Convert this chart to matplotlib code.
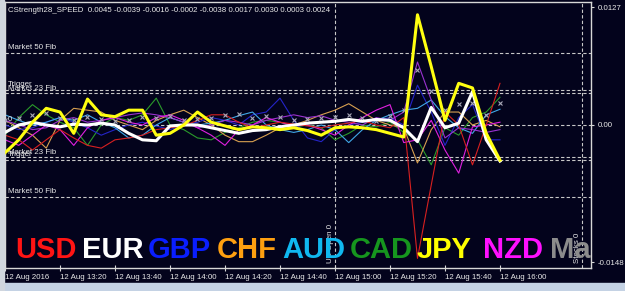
import numpy as np
import matplotlib.pyplot as plt
from matplotlib.patches import Rectangle

# bar times (M5 bars, 13:00 .. 16:00) and tick labels
bars = np.arange(37)
tick_bars = [0, 4, 8, 12, 16, 20, 24, 28, 32, 36]
tick_labels = ['12 Aug 2016', '12 Aug 13:20', '12 Aug 13:40', '12 Aug 14:00', '12 Aug 14:20',
               '12 Aug 14:40', '12 Aug 15:00', '12 Aug 15:20', '12 Aug 15:40', '12 Aug 16:00']

# currency strength speed values
usd = [-0.0011, -0.0016, -0.0027, -0.0016, -0.0005, -0.0014, -0.0022, -0.0025, -0.0016, -0.0014,
       -0.0011, -0.0005, -0.0003, -0.0001, 0.0005, 0.0011, 0.0011, 0.0003, -0.0003, 0.0000,
       0.0003, 0.0001, -0.0001, -0.0003, 0.0000, 0.0002, 0.0005, 0.0000, -0.0003, 0.0008,
       -0.0144, -0.0065, 0.0014, 0.0000, -0.0043, 0.0000, 0.0045]
eur = [-0.0008, 0.0000, 0.0003, 0.0000, -0.0002, 0.0001, 0.0000, 0.0002, 0.0000, -0.0009,
       -0.0016, -0.0017, -0.0001, 0.0000, 0.0000, -0.0003, -0.0006, -0.0009, -0.0006, -0.0005,
       -0.0002, 0.0000, 0.0002, 0.0003, 0.0004, 0.0006, 0.0004, 0.0006, 0.0005, -0.0003,
       -0.0018, 0.0019, -0.0003, 0.0002, 0.0036, -0.0016, -0.0039]
gbp = [0.0000, -0.0005, -0.0003, 0.0003, 0.0008, 0.0003, -0.0003, -0.0011, -0.0005, 0.0000,
       0.0003, -0.0001, -0.0005, 0.0000, 0.0003, 0.0008, 0.0005, 0.0000, 0.0011, 0.0014,
       0.0029, 0.0005, -0.0014, -0.0018, -0.0005, 0.0000, 0.0003, 0.0005, 0.0008, 0.0000,
       0.0043, 0.0014, -0.0022, 0.0008, 0.0022, -0.0016, -0.0016]
chf = [0.0005, -0.0003, -0.0011, -0.0025, 0.0005, 0.0018, 0.0016, 0.0014, 0.0005, 0.0000,
       -0.0005, 0.0005, 0.0011, 0.0016, 0.0008, 0.0000, -0.0011, -0.0018, -0.0018, -0.0011,
       -0.0003, 0.0000, 0.0005, 0.0011, 0.0016, 0.0023, 0.0014, 0.0005, 0.0000, -0.0003,
       -0.0041, -0.0005, 0.0014, 0.0014, 0.0000, 0.0005, -0.0002]
jpy = [-0.0030, -0.0016, 0.0003, 0.0018, 0.0014, -0.0009, 0.0028, 0.0011, 0.0009, 0.0016,
       0.0016, -0.0011, -0.0009, 0.0000, 0.0014, 0.0003, -0.0001, -0.0005, -0.0002, -0.0003,
       -0.0005, -0.0003, -0.0006, -0.0011, -0.0003, -0.0002, -0.0003, -0.0005, -0.0009, -0.0013,
       0.0119, 0.0063, 0.0005, 0.0045, 0.0040, -0.0009, -0.0038]
aud = [0.0011, 0.0005, 0.0000, 0.0003, 0.0008, 0.0005, 0.0011, 0.0003, -0.0003, -0.0014,
       -0.0011, 0.0000, 0.0008, 0.0003, 0.0000, 0.0002, 0.0005, 0.0010, 0.0014, 0.0000,
       -0.0005, -0.0008, -0.0005, 0.0000, -0.0005, -0.0019, -0.0005, 0.0005, 0.0011, 0.0016,
       0.0018, 0.0027, 0.0009, -0.0003, -0.0009, 0.0011, 0.0017]
cad = [-0.0011, 0.0008, 0.0022, 0.0011, 0.0003, -0.0003, -0.0022, 0.0000, 0.0008, 0.0005,
       0.0011, 0.0029, 0.0000, -0.0005, -0.0014, -0.0016, -0.0008, -0.0003, 0.0003, 0.0005,
       0.0003, -0.0002, 0.0000, -0.0003, -0.0016, -0.0009, 0.0000, -0.0002, 0.0003, -0.0008,
       -0.0016, -0.0043, -0.0003, -0.0011, 0.0008, 0.0014, 0.0030]
nzd = [-0.0016, -0.0022, -0.0011, 0.0000, -0.0005, -0.0022, -0.0003, 0.0005, 0.0008, 0.0003,
       0.0000, 0.0008, 0.0011, 0.0005, -0.0003, -0.0011, -0.0022, -0.0005, 0.0000, 0.0008,
       0.0003, -0.0001, 0.0000, -0.0005, -0.0011, 0.0000, 0.0008, 0.0016, 0.0022, -0.0019,
       -0.0016, 0.0005, -0.0027, -0.0052, -0.0002, 0.0000, 0.0003]
violet = [0.0005, 0.0000, -0.0005, -0.0003, 0.0005, 0.0008, 0.0003, 0.0005, 0.0008, 0.0011,
          0.0013, 0.0011, 0.0008, 0.0003, -0.0003, 0.0000, 0.0005, 0.0003, 0.0000, 0.0005,
          0.0008, 0.0011, 0.0008, 0.0010, 0.0005, 0.0003, 0.0000, 0.0008, 0.0005, 0.0014,
          0.0068, 0.0027, -0.0014, -0.0003, -0.0005, -0.0008, -0.0005]
ma = [0.0005, 0.0008, 0.0011, 0.0013, 0.0008, 0.0005, 0.0009, 0.0006, 0.0004, 0.0005,
      0.0009, 0.0008, 0.0010, 0.0005, 0.0006, 0.0008, 0.0011, 0.0012, 0.0008, 0.0010,
      0.0009, 0.0005, 0.0006, 0.0008, 0.0009, 0.0011, 0.0008, 0.0004, 0.0010, 0.0016,
      0.0059, 0.0037, 0.0016, 0.0023, 0.0024, 0.0011, 0.0024]

# levels
fib50 = 0.0078
trigger = 0.0038
fib23 = 0.0035
us_open_bar = 24
stocks_bar = 42

title = 'CStrength28_SPEED  0.0045 -0.0039 -0.0016 -0.0002 -0.0038 0.0017 0.0030 0.0003 0.0024'
currencies = ['USD', 'EUR', 'GBP', 'CHF', 'AUD', 'CAD', 'JPY', 'NZD', 'Ma']
cur_colors = ['#ff1414', '#ffffff', '#0a1eff', '#ffa010', '#10b8f0', '#16961e', '#ffff00', '#ff10ff', '#8c8c8c']
cur_xpos = [0.017, 0.131, 0.244, 0.362, 0.473, 0.589, 0.703, 0.816, 0.930]

bg = '#03031c'
txt = '#e8e8e8'
font = 'Liberation Sans'
fs = 5.7

fig = plt.figure(figsize=(6.25, 2.91), dpi=100, facecolor=bg)
fig.patches.append(Rectangle((0, 0), 1, 8/291, transform=fig.transFigure, color='#c4d2e4', zorder=0))
fig.patches.append(Rectangle((0, 0), 4/625, 1, transform=fig.transFigure, color='#d0d6de', zorder=0))

ax = fig.add_axes([5/625, 23/291, 586/625, 266/291])
ax.set_facecolor(bg)
ax.set_xlim(0, 42.62)
ax.set_ylim(-0.01544, 0.01328)

for s in ax.spines.values():
    s.set_color('#d8d8d8')
    s.set_linewidth(1)

# dashed levels
dash = dict(color='#c8c8c8', lw=0.8, dashes=(3, 2), zorder=1)
for lv in [fib50, trigger, fib23, 0.0, -fib23, -trigger, -fib50]:
    ax.axhline(lv, **dash)
ax.axvline(us_open_bar, **dash)
ax.axvline(stocks_bar, **dash)

lab = dict(color=txt, fontsize=fs, family=font, va='bottom', ha='left')
ax.text(0.2, fib50 + 0.0002, 'Market 50 Fib', **lab)
ax.text(0.2, trigger + 0.0002, 'Trigger', **lab)
ax.text(0.2, fib23 + 0.0001, 'Market 23 Fib', **lab)
ax.text(0.2, 0.0002, '0', **lab)
ax.text(0.2, -fib23 + 0.0002, 'Market 23 Fib', **lab)
ax.text(0.2, -trigger + 0.0002, 'Trigger', **lab)
ax.text(0.2, -fib50 + 0.0002, 'Market 50 Fib', **lab)
ax.text(us_open_bar - 0.1, -0.0149, 'US Open 0', rotation=90, color=txt, fontsize=fs,
        family=font, ha='right', va='bottom')
ax.text(stocks_bar - 0.1, -0.0149, 'Stocks 0', rotation=90, color=txt, fontsize=fs,
        family=font, ha='right', va='bottom')

# thin lines
ax.plot(bars, cad, color='#2a9a2a', lw=0.8, zorder=2)
ax.plot(bars, chf, color='#d8a050', lw=0.8, zorder=2)
ax.plot(bars, gbp, color='#2424c8', lw=0.8, zorder=2)
ax.plot(bars, aud, color='#40a8e8', lw=0.8, zorder=2)
ax.plot(bars, violet, color='#9a32d0', lw=0.8, zorder=2)
ax.plot(bars, nzd, color='#e020e0', lw=0.8, zorder=2)
ax.plot(bars, usd, color='#d82020', lw=0.8, zorder=2)
ax.plot(bars, ma, ls='none', marker='x', ms=3, mew=0.8, color='#a8a8b8', zorder=3)
# thick lines
ax.plot(bars, eur, color='#ffffff', lw=2.2, zorder=4)
ax.plot(bars, jpy, color='#ffff10', lw=2.2, zorder=5)

# currency labels
for name, c, xp in zip(currencies, cur_colors, cur_xpos):
    ax.text(xp, 0.038, name, transform=ax.transAxes, color=c, fontsize=21,
            family=font, weight='bold', ha='left', va='baseline', clip_on=True, zorder=6)

ax.text(0.005, 0.98, title, transform=ax.transAxes, color=txt, fontsize=fs,
        family=font, ha='left', va='top')

# axes ticks
ax.set_xticks(tick_bars)
ax.set_xticklabels(tick_labels, ha='left', family=font)
ax.tick_params(axis='x', direction='inout', length=5, color='#d8d8d8', labelcolor=txt,
               labelsize=fs, pad=2)
ax.yaxis.tick_right()
ax.set_yticks([0.0127, 0.0, -0.0148])
ax.set_yticklabels(['0.0127', '0.00', '-0.0148'], family=font)
ax.tick_params(axis='y', direction='out', length=2, color='#d8d8d8', labelcolor=txt,
               labelsize=fs, pad=3)

fig.savefig('out.png', dpi=100, facecolor=bg)
